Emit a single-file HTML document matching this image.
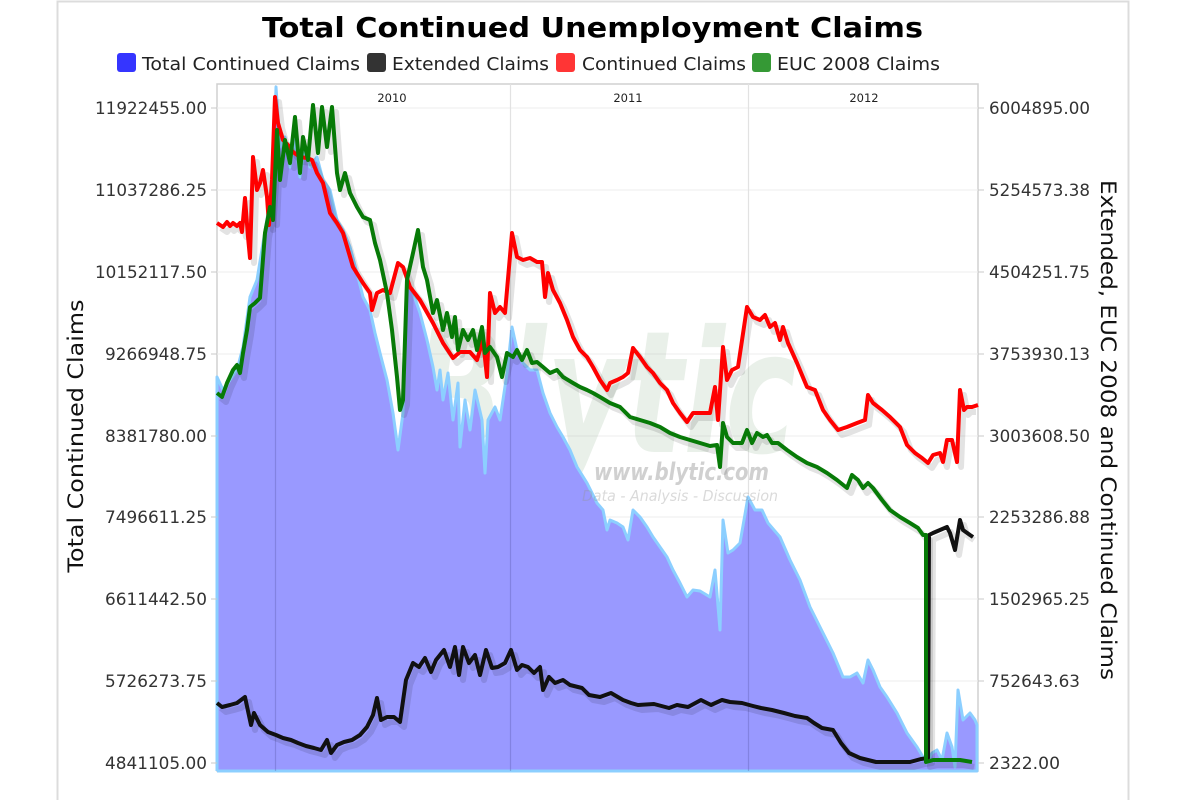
<!DOCTYPE html>
<html><head><meta charset="utf-8"><style>
html,body{margin:0;padding:0;background:#fff;}
svg{display:block;}
text{font-family:"DejaVu Sans","Liberation Sans",sans-serif;}
</style></head><body>
<svg width="1200" height="800" viewBox="0 0 1200 800" xmlns="http://www.w3.org/2000/svg">
<rect x="0" y="0" width="1200" height="800" fill="#fff"/>
<!-- outer frame -->
<path d="M57.5,800 V1.5 H1128.5 V800" fill="none" stroke="#dcdcdc" stroke-width="2"/>

<!-- title -->
<text x="262" y="37" font-size="28" font-weight="bold" fill="#000" textLength="661" lengthAdjust="spacingAndGlyphs">Total Continued Unemployment Claims</text>

<!-- legend -->
<rect x="117" y="53" width="19" height="19" rx="3" fill="#3535ff"/>
<text x="142" y="70" font-size="18" fill="#222" textLength="218" lengthAdjust="spacingAndGlyphs">Total Continued Claims</text>
<rect x="367" y="53" width="19" height="19" rx="3" fill="#333"/>
<text x="392" y="70" font-size="18" fill="#222" textLength="157" lengthAdjust="spacingAndGlyphs">Extended Claims</text>
<rect x="556" y="53" width="19" height="19" rx="3" fill="#ff3535"/>
<text x="582" y="70" font-size="18" fill="#222" textLength="164" lengthAdjust="spacingAndGlyphs">Continued Claims</text>
<rect x="752" y="53" width="19" height="19" rx="3" fill="#359935"/>
<text x="777" y="70" font-size="18" fill="#222" textLength="163" lengthAdjust="spacingAndGlyphs">EUC 2008 Claims</text>

<!-- plot background & grid -->
<rect x="217" y="84" width="761" height="687" fill="#fff" stroke="#d0d0d0" stroke-width="1.5"/>
<g stroke="#eeeeee" stroke-width="1">
<line x1="217" y1="108" x2="978" y2="108"/>
<line x1="217" y1="190" x2="978" y2="190"/>
<line x1="217" y1="272" x2="978" y2="272"/>
<line x1="217" y1="354" x2="978" y2="354"/>
<line x1="217" y1="436" x2="978" y2="436"/>
<line x1="217" y1="517" x2="978" y2="517"/>
<line x1="217" y1="599" x2="978" y2="599"/>
<line x1="217" y1="681" x2="978" y2="681"/>
</g>
<g stroke="#e2e2e2" stroke-width="1.2">
<line x1="275.5" y1="84" x2="275.5" y2="771"/>
<line x1="510.5" y1="84" x2="510.5" y2="771"/>
<line x1="748.5" y1="84" x2="748.5" y2="771"/>
</g>
<g font-size="11.5" fill="#222" text-anchor="middle">
<text x="392" y="102">2010</text>
<text x="628" y="102">2011</text>
<text x="864" y="102">2012</text>
</g>

<!-- watermark -->
<text x="412" y="452" font-size="170" font-weight="bold" font-style="italic" fill="rgba(120,160,120,0.16)" textLength="385" lengthAdjust="spacingAndGlyphs">Blytic</text>

<!-- area: Total Continued Claims -->
<polygon fill="#9999ff" stroke="none" points="217,377 223,390 230,380 237,370 243,347 250,297 257,280 263,243 268,213 273,180 276,87 280,147 285,137 290,167 295,140 300,177 305,147 310,167 317,157 323,180 330,190 337,220 343,230 350,247 357,273 363,297 370,310 375,333 380,353 387,380 393,413 398,450 403,413 407,280 413,293 420,313 427,340 433,367 437,390 440,370 443,400 448,373 453,420 458,383 460,447 465,400 470,430 475,390 482,420 485,473 488,420 495,407 500,420 507,373 512,327 517,350 523,363 530,370 537,370 543,393 550,413 557,427 563,437 570,450 577,467 587,483 597,503 603,510 607,530 610,520 617,523 623,527 628,540 633,510 640,517 647,527 653,537 660,547 667,557 673,570 680,583 687,597 693,590 700,591 710,597 715,570 720,630 723,520 728,553 733,550 740,543 748,497 755,510 762,510 768,523 780,537 790,560 800,580 810,607 823,633 833,653 843,677 850,677 857,673 863,683 868,660 873,670 880,687 887,697 897,713 907,733 917,747 923,757 927,763 932,753 937,750 942,760 947,733 952,747 955,767 958,690 963,720 970,713 975,720 977,725 977,771 217,771"/>
<polyline fill="none" stroke="#8ccfff" stroke-width="3" stroke-linejoin="round" points="217,771 217,377 223,390 230,380 237,370 243,347 250,297 257,280 263,243 268,213 273,180 276,87 280,147 285,137 290,167 295,140 300,177 305,147 310,167 317,157 323,180 330,190 337,220 343,230 350,247 357,273 363,297 370,310 375,333 380,353 387,380 393,413 398,450 403,413 407,280 413,293 420,313 427,340 433,367 437,390 440,370 443,400 448,373 453,420 458,383 460,447 465,400 470,430 475,390 482,420 485,473 488,420 495,407 500,420 507,373 512,327 517,350 523,363 530,370 537,370 543,393 550,413 557,427 563,437 570,450 577,467 587,483 597,503 603,510 607,530 610,520 617,523 623,527 628,540 633,510 640,517 647,527 653,537 660,547 667,557 673,570 680,583 687,597 693,590 700,591 710,597 715,570 720,630 723,520 728,553 733,550 740,543 748,497 755,510 762,510 768,523 780,537 790,560 800,580 810,607 823,633 833,653 843,677 850,677 857,673 863,683 868,660 873,670 880,687 887,697 897,713 907,733 917,747 923,757 927,763 932,753 937,750 942,760 947,733 952,747 955,767 958,690 963,720 970,713 975,720 977,725 977,771 217,771"/>
<g stroke="rgba(90,90,170,0.35)" stroke-width="1.2">
<line x1="275.5" y1="200" x2="275.5" y2="771"/>
<line x1="510.5" y1="330" x2="510.5" y2="771"/>
<line x1="748.5" y1="500" x2="748.5" y2="771"/>
</g>

<text x="594" y="480" font-size="24" font-weight="bold" font-style="italic" fill="rgba(150,150,150,0.45)" textLength="175" lengthAdjust="spacingAndGlyphs">www.blytic.com</text>
<text x="582" y="501" font-size="15" font-style="italic" fill="rgba(150,150,150,0.35)" textLength="196" lengthAdjust="spacingAndGlyphs">Data - Analysis - Discussion</text>

<!-- shadows -->
<g fill="none" stroke="rgba(0,0,0,0.11)" stroke-width="6" stroke-linejoin="round" transform="translate(4,5)">
<polyline id="shB" points="217,703 222,707 230,705 237,703 245,697 251,725 254,713 260,725 268,732 276,735 283,738 291,740 298,743 306,746 314,748 321,750 327,740 331,753 337,745 344,742 352,740 360,735 367,727 373,715 377,698 381,720 387,717 394,717 400,722 406,680 413,663 419,667 425,658 431,672 436,660 444,650 450,667 455,647 459,675 463,647 469,663 475,655 480,675 486,650 492,668 498,667 505,663 511,650 517,670 522,665 528,667 534,673 540,667 543,690 549,677 555,683 563,680 570,685 582,688 589,695 600,697 611,693 623,700 631,703 638,705 654,704 669,708 677,705 688,707 701,700 711,705 722,700 730,702 742,703 753,706 761,708 772,710 784,713 795,716 807,718 814,723 822,728 833,730 841,743 849,753 860,758 876,762 910,762 921,759 928,758 929,535 933,533 940,530 947,527 950,533 955,550 960,520 963,530 970,535"/>
<polyline points="217,223 223,227 227,222 230,226 233,223 237,226 240,223 242,232 245,198 248,237 250,258 253,157 257,190 260,183 263,170 267,197 269,225 272,180 275,97 278,123 283,140 288,145 293,152 300,157 307,158 312,160 317,173 323,183 330,213 337,223 343,233 353,267 363,283 370,293 372,310 377,293 383,290 390,293 398,263 403,267 410,287 420,300 433,323 443,343 453,358 460,352 470,352 477,360 483,340 487,377 490,293 495,313 500,307 505,313 512,233 517,257 523,260 530,258 537,262 542,262 545,297 548,273 553,290 560,303 567,320 573,337 580,350 587,357 593,367 600,380 607,390 610,383 617,380 623,377 628,373 633,348 640,357 647,367 653,373 660,383 667,390 673,403 680,413 687,422 693,413 703,413 710,413 715,387 718,420 723,347 727,380 732,370 738,367 747,307 753,317 760,320 765,315 770,327 775,323 780,340 783,327 788,343 797,363 807,387 815,390 823,410 830,420 838,430 847,427 857,423 865,420 868,395 873,403 882,410 890,417 900,427 907,445 915,453 922,458 928,463 933,455 940,453 943,462 947,440 952,440 957,462 960,390 964,410 967,407 972,407"/>
<polyline points="217,393 222,397 227,383 233,370 237,365 240,373 243,353 247,330 250,307 255,303 260,298 265,233 270,207 273,220 277,130 280,180 285,140 290,163 295,117 300,173 303,137 308,160 313,105 318,153 322,107 327,147 332,107 337,173 340,190 345,173 350,193 357,207 363,217 370,220 375,243 380,260 387,293 392,330 397,377 400,410 403,400 407,280 413,253 418,230 423,267 427,280 433,313 437,300 443,330 447,313 452,337 455,317 458,350 463,330 468,340 473,330 477,350 482,327 485,353 490,347 497,357 502,377 507,353 513,357 517,350 522,360 527,350 532,363 537,362 543,367 550,373 557,370 563,377 573,383 580,387 587,390 593,393 600,397 610,403 620,407 630,417 640,420 650,423 660,427 670,433 680,437 690,440 700,443 710,446 717,445 720,467 723,423 727,437 733,443 742,443 747,430 752,443 757,433 763,437 767,435 772,443 778,443 787,450 797,457 807,463 817,467 827,473 837,480 847,488 852,475 858,480 863,488 868,483 873,488 882,500 890,510 900,517 910,523 918,528 923,535 926,535 926,762 933,760 960,760 970,762"/>
</g>

<!-- Extended Claims (black) -->
<polyline fill="none" stroke="#111" stroke-width="4" stroke-linejoin="round" points="217,703 222,707 230,705 237,703 245,697 251,725 254,713 260,725 268,732 276,735 283,738 291,740 298,743 306,746 314,748 321,750 327,740 331,753 337,745 344,742 352,740 360,735 367,727 373,715 377,698 381,720 387,717 394,717 400,722 406,680 413,663 419,667 425,658 431,672 436,660 444,650 450,667 455,647 459,675 463,647 469,663 475,655 480,675 486,650 492,668 498,667 505,663 511,650 517,670 522,665 528,667 534,673 540,667 543,690 549,677 555,683 563,680 570,685 582,688 589,695 600,697 611,693 623,700 631,703 638,705 654,704 669,708 677,705 688,707 701,700 711,705 722,700 730,702 742,703 753,706 761,708 772,710 784,713 795,716 807,718 814,723 822,728 833,730 841,743 849,753 860,758 876,762 910,762 921,759 928,758 929,535 933,533 940,530 947,527 950,533 955,550 960,520 963,530 970,535 973,537"/>

<!-- Continued Claims (red) -->
<polyline fill="none" stroke="#ff0000" stroke-width="4" stroke-linejoin="round" points="217,223 223,227 227,222 230,226 233,223 237,226 240,223 242,232 245,198 248,237 250,258 253,157 257,190 260,183 263,170 267,197 269,225 272,180 275,97 278,123 283,140 288,145 293,152 300,157 307,158 312,160 317,173 323,183 330,213 337,223 343,233 353,267 363,283 370,293 372,310 377,293 383,290 390,293 398,263 403,267 410,287 420,300 433,323 443,343 453,358 460,352 470,352 477,360 483,340 487,377 490,293 495,313 500,307 505,313 512,233 517,257 523,260 530,258 537,262 542,262 545,297 548,273 553,290 560,303 567,320 573,337 580,350 587,357 593,367 600,380 607,390 610,383 617,380 623,377 628,373 633,348 640,357 647,367 653,373 660,383 667,390 673,403 680,413 687,422 693,413 703,413 710,413 715,387 718,420 723,347 727,380 732,370 738,367 747,307 753,317 760,320 765,315 770,327 775,323 780,340 783,327 788,343 797,363 807,387 815,390 823,410 830,420 838,430 847,427 857,423 865,420 868,395 873,403 882,410 890,417 900,427 907,445 915,453 922,458 928,463 933,455 940,453 943,462 947,440 952,440 957,462 960,390 964,410 967,407 972,407 978,405"/>

<!-- EUC 2008 Claims (green) -->
<polyline fill="none" stroke="#077a07" stroke-width="4" stroke-linejoin="round" points="217,393 222,397 227,383 233,370 237,365 240,373 243,353 247,330 250,307 255,303 260,298 265,233 270,207 273,220 277,130 280,180 285,140 290,163 295,117 300,173 303,137 308,160 313,105 318,153 322,107 327,147 332,107 337,173 340,190 345,173 350,193 357,207 363,217 370,220 375,243 380,260 387,293 392,330 397,377 400,410 403,400 407,280 413,253 418,230 423,267 427,280 433,313 437,300 443,330 447,313 452,337 455,317 458,350 463,330 468,340 473,330 477,350 482,327 485,353 490,347 497,357 502,377 507,353 513,357 517,350 522,360 527,350 532,363 537,362 543,367 550,373 557,370 563,377 573,383 580,387 587,390 593,393 600,397 610,403 620,407 630,417 640,420 650,423 660,427 670,433 680,437 690,440 700,443 710,446 717,445 720,467 723,423 727,437 733,443 742,443 747,430 752,443 757,433 763,437 767,435 772,443 778,443 787,450 797,457 807,463 817,467 827,473 837,480 847,488 852,475 858,480 863,488 868,483 873,488 882,500 890,510 900,517 910,523 918,528 923,535 926,535 926,762 933,760 960,760 972,762"/>

<!-- ticks -->
<g stroke="#c8c8c8" stroke-width="1">
<line x1="211" y1="108" x2="217" y2="108"/><line x1="211" y1="190" x2="217" y2="190"/><line x1="211" y1="272" x2="217" y2="272"/><line x1="211" y1="354" x2="217" y2="354"/><line x1="211" y1="436" x2="217" y2="436"/><line x1="211" y1="517" x2="217" y2="517"/><line x1="211" y1="599" x2="217" y2="599"/><line x1="211" y1="681" x2="217" y2="681"/><line x1="211" y1="763" x2="217" y2="763"/>
<line x1="978" y1="108" x2="984" y2="108"/><line x1="978" y1="190" x2="984" y2="190"/><line x1="978" y1="272" x2="984" y2="272"/><line x1="978" y1="354" x2="984" y2="354"/><line x1="978" y1="436" x2="984" y2="436"/><line x1="978" y1="517" x2="984" y2="517"/><line x1="978" y1="599" x2="984" y2="599"/><line x1="978" y1="681" x2="984" y2="681"/><line x1="978" y1="763" x2="984" y2="763"/>
</g>

<!-- left tick labels -->
<g font-size="17" fill="#333" text-anchor="end">
<text x="207" y="114" textLength="112" lengthAdjust="spacingAndGlyphs">11922455.00</text>
<text x="207" y="196" textLength="112" lengthAdjust="spacingAndGlyphs">11037286.25</text>
<text x="207" y="278" textLength="112" lengthAdjust="spacingAndGlyphs">10152117.50</text>
<text x="207" y="360" textLength="102" lengthAdjust="spacingAndGlyphs">9266948.75</text>
<text x="207" y="442" textLength="102" lengthAdjust="spacingAndGlyphs">8381780.00</text>
<text x="207" y="523" textLength="102" lengthAdjust="spacingAndGlyphs">7496611.25</text>
<text x="207" y="605" textLength="102" lengthAdjust="spacingAndGlyphs">6611442.50</text>
<text x="207" y="687" textLength="102" lengthAdjust="spacingAndGlyphs">5726273.75</text>
<text x="207" y="769" textLength="102" lengthAdjust="spacingAndGlyphs">4841105.00</text>
</g>
<!-- right tick labels -->
<g font-size="17" fill="#333">
<text x="989" y="114" textLength="101" lengthAdjust="spacingAndGlyphs">6004895.00</text>
<text x="989" y="196" textLength="101" lengthAdjust="spacingAndGlyphs">5254573.38</text>
<text x="989" y="278" textLength="101" lengthAdjust="spacingAndGlyphs">4504251.75</text>
<text x="989" y="360" textLength="101" lengthAdjust="spacingAndGlyphs">3753930.13</text>
<text x="989" y="442" textLength="101" lengthAdjust="spacingAndGlyphs">3003608.50</text>
<text x="989" y="523" textLength="101" lengthAdjust="spacingAndGlyphs">2253286.88</text>
<text x="989" y="605" textLength="101" lengthAdjust="spacingAndGlyphs">1502965.25</text>
<text x="989" y="687" textLength="91" lengthAdjust="spacingAndGlyphs">752643.63</text>
<text x="989" y="769" textLength="71" lengthAdjust="spacingAndGlyphs">2322.00</text>
</g>

<!-- axis titles -->
<text transform="translate(83,436) rotate(-90)" text-anchor="middle" font-size="21" fill="#111" textLength="273" lengthAdjust="spacingAndGlyphs">Total Continued Claims</text>
<text transform="translate(1101,430) rotate(90)" text-anchor="middle" font-size="21" fill="#111" textLength="500" lengthAdjust="spacingAndGlyphs">Extended, EUC 2008 and Continued Claims</text>
</svg>
</body></html>
